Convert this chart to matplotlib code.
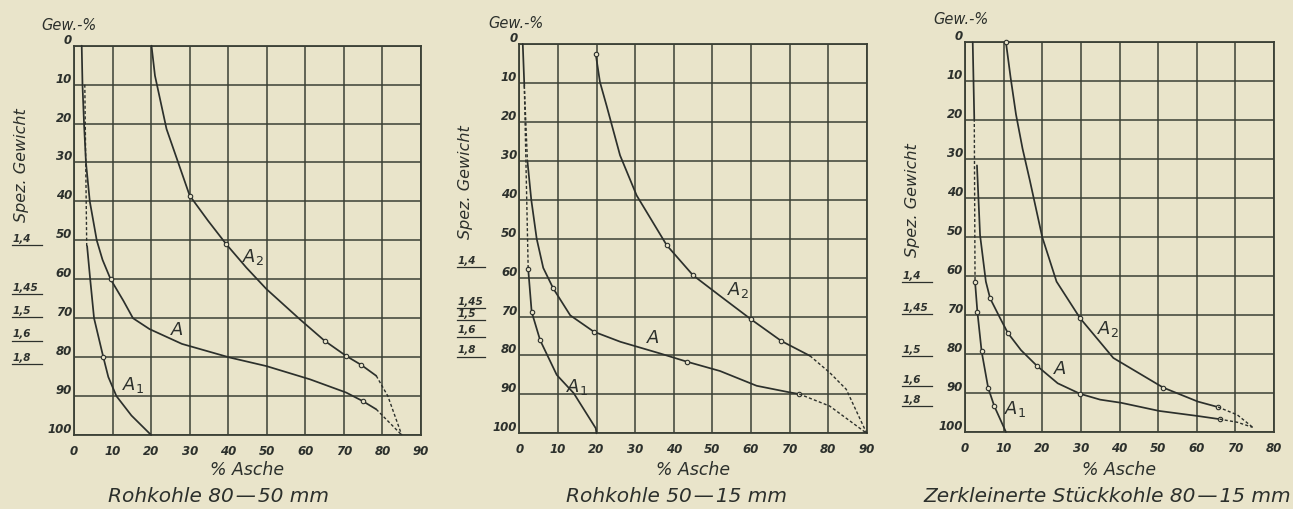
import matplotlib
matplotlib.use('Agg')
import matplotlib.pyplot as plt
import matplotlib.transforms as mtransforms
from matplotlib.lines import Line2D

W, H = 1293, 510
BG = '#e9e4ca'
INK = '#2c302c'
GRID = '#3b4035'

# ---------------- data ----------------
sg_labels = ['1,4', '1,45', '1,5', '1,6', '1,8']
y_ticks = list(range(0, 101, 10))

# Chart 1: Rohkohle 80-50 mm
c1_title = 'Rohkohle 80\u200a\u2014\u200a50 mm'
c1_xmax = 90
c1_A_x = [2.0, 2.2, 2.6, 3.1, 4.1, 5.9, 7.4, 9.5, 12.8, 15.3, 19.6, 28.0, 40.4, 49.9, 61.2, 70.6, 74.9, 78.4]
c1_A_y = [0, 10, 20, 30, 40, 50, 55, 60, 65.5, 70, 72.8, 76.6, 80.1, 82.3, 85.7, 89.1, 91.3, 93.4]
c1_A_ext_x = [78.4, 85.0]
c1_A_ext_y = [93.4, 100]
c1_A1_x = [3.4, 4.2, 5.2, 7.6, 8.9, 11.0, 14.9, 20.0]
c1_A1_y = [51.5, 60, 70, 80, 85.1, 90, 95, 100]
c1_A1_ext_x = [2.8, 3.3]
c1_A1_ext_y = [10, 51.5]
c1_A2_x = [20.1, 21.0, 24.0, 30.0, 34.8, 39.5, 44.7, 49.9, 58.6, 65.0, 70.6, 74.5, 78.4]
c1_A2_y = [0, 7.7, 21.4, 38.5, 45, 51, 57, 62.5, 70.3, 75.8, 79.7, 82.0, 84.8]
c1_A2_ext_x = [78.4, 81.4, 85.0]
c1_A2_ext_y = [84.8, 90, 100]
c1_sg_y = [51.2, 63.8, 69.8, 75.8, 81.8]

# Chart 2: Rohkohle 50-15 mm
c2_title = 'Rohkohle 50\u200a\u2014\u200a15 mm'
c2_xmax = 90
c2_top_x = [0.9, 1.3]
c2_top_y = [0, 10.7]
c2_A_x = [2.1, 3.1, 4.5, 6.2, 8.8, 13.2, 19.3, 26.2, 36.5, 43.4, 52.0, 61.5, 70.1, 72.5]
c2_A_y = [30, 40, 50, 57.5, 62.8, 69.7, 73.9, 76.5, 79.5, 81.6, 84.0, 87.8, 89.5, 89.9]
c2_A_ext_x = [72.5, 80.4, 90.0]
c2_A_ext_y = [89.9, 93.0, 100]
c2_A_up_x = [1.3, 2.1]
c2_A_up_y = [10.7, 30]
c2_A1_x = [2.3, 3.2, 5.4, 9.7, 14.1, 19.8, 20.0]
c2_A1_y = [57.7, 68.8, 76.1, 85.0, 89.7, 98.7, 100]
c2_A1_ext_x = [1.3, 2.3]
c2_A1_ext_y = [10.7, 57.7]
c2_A2_x = [19.8, 20.9, 22.6, 26.1, 30.4, 38.2, 45.0, 52.0, 60.0, 67.9, 75.3]
c2_A2_y = [2.6, 9.8, 15.8, 28.6, 38.9, 51.7, 59.4, 64.7, 70.7, 76.3, 80.1]
c2_A2_ext_x = [75.3, 80.4, 84.7, 90.0]
c2_A2_ext_y = [80.1, 84.4, 88.7, 100]
c2_sg_y = [57.3, 67.9, 70.9, 75.2, 80.3]

# Chart 3: Zerkleinerte Stückkohle 80-15 mm
c3_title = 'Zerkleinerte Stückkohle 80\u200a\u2014\u200a15 mm'
c3_xmax = 80
c3_top_x = [2.0, 2.4]
c3_top_y = [0, 19.6]
c3_A_x = [3.1, 3.9, 5.4, 6.5, 9.1, 11.1, 14.5, 18.6, 24.0, 29.8, 35.0, 40.4, 50.3, 60.3, 65.9]
c3_A_y = [31.6, 49.5, 61.4, 65.7, 70.8, 74.6, 79.0, 83.0, 87.5, 90.2, 91.7, 92.5, 94.6, 95.9, 96.7]
c3_A_ext_x = [65.9, 70.5, 74.5]
c3_A_ext_y = [96.7, 97.5, 98.8]
c3_A1_x = [2.6, 3.2, 4.3, 6.0, 7.6, 10.6]
c3_A1_y = [61.4, 69.1, 79.3, 88.7, 93.4, 100]
c3_A1_ext_x = [2.4, 2.6]
c3_A1_ext_y = [19.6, 61.4]
c3_A2_x = [10.6, 11.8, 13.2, 14.9, 16.8, 20.0, 23.7, 29.8, 38.4, 51.3, 60.3, 65.5]
c3_A2_y = [0, 9, 18.5, 27.3, 35.5, 50, 61.4, 70.8, 81.0, 88.6, 92.2, 93.6]
c3_A2_ext_x = [65.5, 70.5, 74.5]
c3_A2_ext_y = [93.6, 95.6, 98.8]
c3_sg_y = [61.6, 69.8, 80.6, 88.3, 93.4]

# ---------------- drawing ----------------
fig = plt.figure(figsize=(W / 100, H / 100), dpi=100, facecolor=BG)


def fx(px):
    return px / W


def fy(py):
    return 1 - py / H


TICKFONT = dict(family='DejaVu Sans', style='italic', weight='bold', size=8.5, color=INK)


def make_axes(x0, x1, y0, y1, xmax):
    ax = fig.add_axes([fx(x0), fy(y1), (x1 - x0) / W, (y1 - y0) / H])
    ax.set_facecolor(BG)
    ax.set_xlim(0, xmax)
    ax.set_ylim(100, 0)
    ax.set_xticks(list(range(0, xmax + 1, 10)))
    ax.set_yticks(y_ticks)
    ax.set_xticklabels([str(v) for v in range(0, xmax + 1, 10)], fontdict=TICKFONT)
    ax.set_yticklabels([str(v) for v in y_ticks], fontdict=TICKFONT)
    for lbl in ax.get_yticklabels():
        lbl.set_va('bottom')
    ax.tick_params(length=0, pad=1.5, axis='y')
    ax.tick_params(length=0, pad=6.5, axis='x')
    ax.grid(True, color=GRID, lw=1.1)
    ax.set_axisbelow(True)
    for s in ax.spines.values():
        s.set_color(GRID)
        s.set_linewidth(1.3)
    return ax


def solid(ax, x, y, marks=None):
    ax.plot(x, y, color=INK, lw=1.25, solid_capstyle='round', zorder=3,
            marker='o' if marks else None, markevery=marks, ms=3.2,
            mfc=BG, mec=INK, mew=0.8, clip_on=False)


def dashed(ax, x, y):
    ax.plot(x, y, color=INK, lw=1.0, ls=(0, (2.2, 1.6)), zorder=3, clip_on=False)


def curve_label(ax, x, y, sub):
    txt = r'$\mathit{A}$' if sub is None else r'$\mathit{A}_{\mathit{%s}}$' % sub
    ax.text(x, y, txt, fontsize=13, color=INK, ha='center', va='center', zorder=4)


def sg_marks(ax, ys, px0, px1):
    tr = mtransforms.blended_transform_factory(fig.transFigure, ax.transData)
    for lab, yv in zip(sg_labels, ys):
        ax.add_line(Line2D([fx(px0), fx(px1)], [yv, yv], transform=tr, color=INK,
                           lw=0.9, clip_on=False))
        ax.text(fx(px0 + 1), yv - 0.6, lab, transform=tr, ha='left', va='bottom',
                fontsize=7.5, style='italic', weight='bold', color=INK, clip_on=False)


def decorations(ax, x0, x1, title, title_x, gew_xy, spez_xy):
    cx = (x0 + x1) / 2
    fig.text(fx(cx), fy(470), '% Asche', ha='center', va='center', fontsize=12.5,
             style='italic', color=INK)
    fig.text(fx(title_x), fy(497), title, ha='center', va='center', fontsize=14.5,
             style='italic', color=INK, family='DejaVu Sans')
    fig.text(fx(gew_xy[0]), fy(gew_xy[1]), 'Gew.-%', ha='center', va='center',
             fontsize=10.5, style='italic', color=INK)
    fig.text(fx(spez_xy[0]), fy(spez_xy[1]), 'Spez. Gewicht', ha='center', va='center',
             fontsize=11.5, style='italic', color=INK, rotation=90)


# ---- chart 1
ax1 = make_axes(74, 421, 46.7, 436, c1_xmax)
solid(ax1, c1_A_x, c1_A_y, marks=[7, 16])
dashed(ax1, c1_A_ext_x, c1_A_ext_y)
solid(ax1, c1_A1_x, c1_A1_y, marks=[3])
dashed(ax1, c1_A1_ext_x, c1_A1_ext_y)
solid(ax1, c1_A2_x, c1_A2_y, marks=[3, 5, 9, 10, 11])
dashed(ax1, c1_A2_ext_x, c1_A2_ext_y)
curve_label(ax1, 46.4, 54.1, '2')
curve_label(ax1, 26.7, 72.8, None)
curve_label(ax1, 15.3, 87.0, '1')
sg_marks(ax1, c1_sg_y, 12, 42)
decorations(ax1, 74, 421, c1_title, 219, (69, 25), (22, 165))

# ---- chart 2
ax2 = make_axes(519.3, 866.7, 45, 434.3, c2_xmax)
solid(ax2, c2_top_x, c2_top_y)
dashed(ax2, c2_A_up_x, c2_A_up_y)
solid(ax2, c2_A_x, c2_A_y, marks=[4, 6, 9, 13])
dashed(ax2, c2_A_ext_x, c2_A_ext_y)
solid(ax2, c2_A1_x, c2_A1_y, marks=[0, 1, 2])
dashed(ax2, c2_A1_ext_x, c2_A1_ext_y)
solid(ax2, c2_A2_x, c2_A2_y, marks=[0, 5, 6, 8, 9])
dashed(ax2, c2_A2_ext_x, c2_A2_ext_y)
curve_label(ax2, 56.7, 63.0, '2')
curve_label(ax2, 34.6, 75.3, None)
curve_label(ax2, 15.0, 87.9, '1')
sg_marks(ax2, c2_sg_y, 456.7, 485)
decorations(ax2, 519.3, 866.7, c2_title, 676, (516, 23), (466, 182))

# ---- chart 3
ax3 = make_axes(965, 1274, 43.3, 433, c3_xmax)
solid(ax3, c3_top_x, c3_top_y)
solid(ax3, c3_A_x, c3_A_y, marks=[3, 5, 7, 9, 14])
dashed(ax3, c3_A_ext_x, c3_A_ext_y)
solid(ax3, c3_A1_x, c3_A1_y, marks=[0, 1, 2, 3, 4])
dashed(ax3, c3_A1_ext_x, c3_A1_ext_y)
solid(ax3, c3_A2_x, c3_A2_y, marks=[0, 7, 9, 11])
dashed(ax3, c3_A2_ext_x, c3_A2_ext_y)
curve_label(ax3, 37.0, 73.4, '2')
curve_label(ax3, 24.6, 83.6, None)
curve_label(ax3, 13.0, 93.9, '1')
sg_marks(ax3, c3_sg_y, 901.7, 931.7)
decorations(ax3, 965, 1274, c3_title, 1107.5, (961, 20), (912, 200))

fig.savefig('out.png', dpi=100, facecolor=BG)
